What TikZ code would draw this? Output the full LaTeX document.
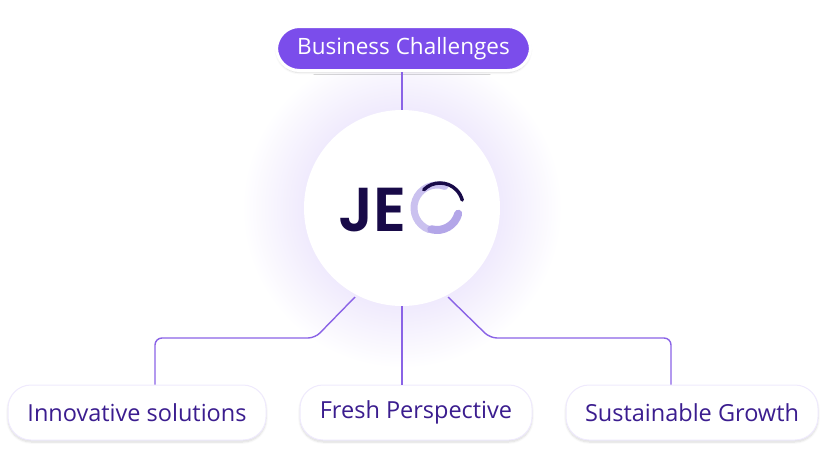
\documentclass[tikz,border=0pt]{standalone}
\usepackage{fontspec}
\setmainfont{Open Sans}
\newfontfamily\logofont{Poppins}[UprightFont=* SemiBold]
\usetikzlibrary{shadows.blur}
\definecolor{pur}{HTML}{7B4DEB}
\definecolor{lin}{HTML}{8A63E6}
\definecolor{txt}{HTML}{3B1D8F}
\definecolor{navy}{HTML}{180A48}
\definecolor{lav}{HTML}{B3A6E8}
\tikzset{
  pill/.style={draw=pur!12, line width=1pt, rounded corners=23pt, fill=white, text=txt, font=\fontsize{23.5}{26}\selectfont, blur shadow={shadow blur steps=8, shadow xshift=0pt, shadow yshift=-2pt, shadow opacity=15}},
  conn/.style={draw=lin, line width=1.4pt, rounded corners=7pt}
}
\begin{document}
\begin{tikzpicture}[x=1pt,y=-1pt]
\useasboundingbox (0,0) rectangle (826,464);
\shade[inner color=pur!30, outer color=white] (402,208) circle (160);
\node[circle, fill=white, minimum size=196pt, inner sep=0] (c) at (402,208) {};
\node[pill, fill=pur, text=white, minimum width=254pt, minimum height=44pt, draw=white, line width=3pt, font=\fontsize{22.5}{26}\selectfont] (bc) at (403.5,48.5) {Business Challenges};
\node[pill, minimum width=258pt, minimum height=55pt] (a) at (137,412.5) {Innovative solutions};
\node[pill, minimum width=232pt, minimum height=55pt] (b) at (416,412.5) {Fresh Perspective};
\node[pill, minimum width=252pt, minimum height=55pt] (d) at (692,412.5) {Sustainable Growth};
\draw[conn] (bc.south -| 402,0) -- (c.north);
\coordinate (l1) at (355,297);
\coordinate (r1) at (448,297);
\draw[conn] (l1) -- (315,338) -- (155,338) -- (a.north -| 155,0);
\draw[conn] (c.south) -- (b.north -| 402,0);
\draw[conn] (r1) -- (490,338) -- (671,338) -- (d.north -| 671,0);
\node[text=navy, font=\fontsize{62}{62}\logofont, anchor=base west, inner sep=0] (je) at (338,231) {JE};
\begin{scope}[line cap=round]
\coordinate (cc) at (437,208);
\draw[lav!70, line width=7pt] ([shift={(-70:23)}]cc) arc[start angle=-70, end angle=-250, radius=23];
\draw[navy, line width=3.5pt] ([shift={(-135:23)}]440,206) arc[start angle=-135, end angle=-15, radius=23];
\draw[lav, line width=8pt] ([shift={(15:22)}]cc) arc[start angle=15, end angle=105, radius=22];
\end{scope}
\end{tikzpicture}
\end{document}
